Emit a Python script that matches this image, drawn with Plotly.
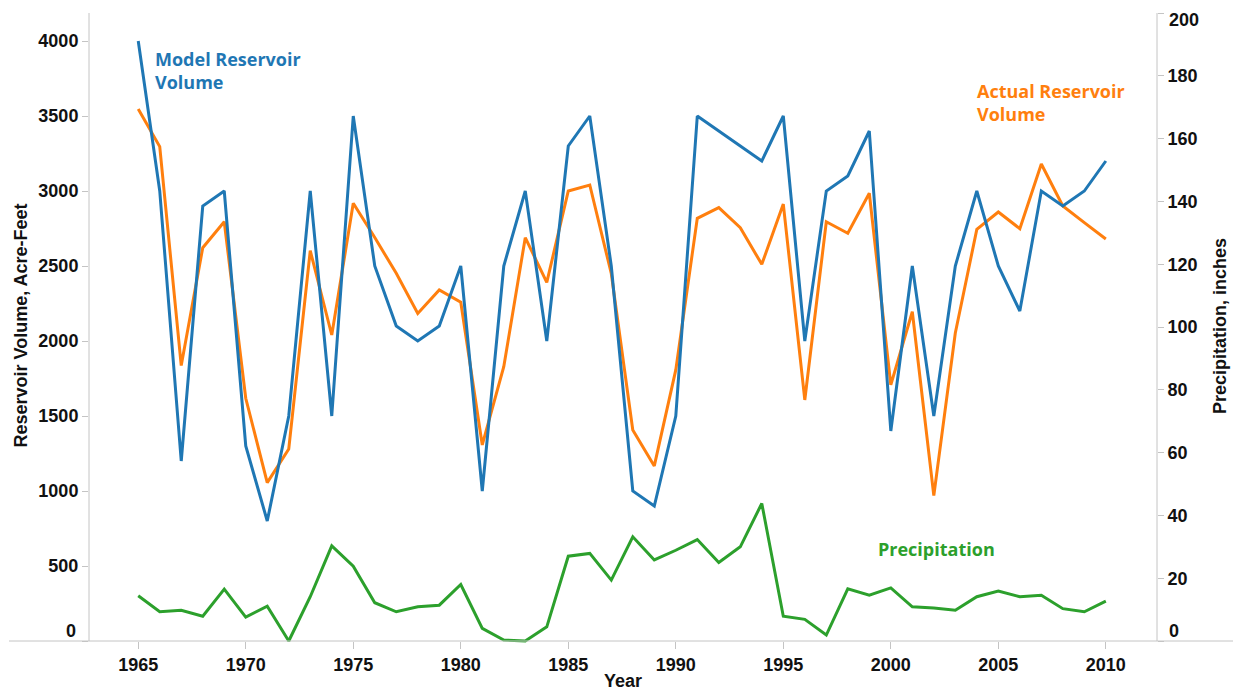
import plotly.graph_objects as go

# ---------------- data ----------------
years = list(range(1965, 2011))
model_volume = [4000, 3000, 1200, 2900, 3000, 1300, 800, 1500, 3000, 1500,
                3500, 2500, 2100, 2000, 2100, 2500, 1000, 2500, 3000, 2000,
                3300, 3500, 2500, 1000, 900, 1500, 3500, 3400, 3300, 3200,
                3500, 2000, 3000, 3100, 3400, 1400, 2500, 1500, 2500, 3000,
                2500, 2200, 3000, 2900, 3000, 3200]
actual_volume = [3547, 3296, 1836, 2622, 2795, 1618, 1056, 1280, 2602, 2040,
                 2918, 2690, 2451, 2184, 2340, 2258, 1307, 1829, 2689, 2391,
                 3000, 3040, 2450, 1407, 1167, 1807, 2818, 2889, 2755, 2511,
                 2913, 1607, 2795, 2718, 2985, 1707, 2195, 969, 2053, 2744,
                 2860, 2749, 3180, 2900, 2789, 2680]
precipitation = [14.4, 9.3, 9.8, 7.9, 16.5, 7.6, 11.1, 0.0, 14.1, 30.3,
                 23.8, 12.2, 9.3, 10.9, 11.4, 18.0, 4.0, 0.3, 0.0, 4.5,
                 27.0, 27.9, 19.4, 33.2, 25.8, 28.9, 32.3, 25.0, 30.0, 43.8,
                 7.9, 6.9, 1.9, 16.6, 14.6, 16.9, 10.9, 10.5, 9.8, 14.1,
                 15.9, 14.1, 14.6, 10.3, 9.3, 12.7]

x_ticks = [1965, 1970, 1975, 1980, 1985, 1990, 1995, 2000, 2005, 2010]
left_ticks = [0, 500, 1000, 1500, 2000, 2500, 3000, 3500, 4000]
right_ticks = [0, 20, 40, 60, 80, 100, 120, 140, 160, 180, 200]

BLUE = "#1f77b4"
ORANGE = "#ff7f0e"
GREEN = "#2ca02c"
AXIS = "#c4c4c4"
TXT = "#111111"

# ---------------- geometry ----------------
W, H = 1233, 690
ML, MR, MT, MB = 89, 76, 13, 47
PW, PH = W - ML - MR, H - MT - MB
zero_px = 2  # zero sits 2px above plot bottom
lp = (PH - zero_px) / 4186.67
left_range = [-zero_px / lp, (PH - zero_px) / lp]
rp = (PH - zero_px) / 200.0
right_range = [-zero_px / rp, 200.0]
y0p = zero_px / PH


def px_x(px):
    return (px - ML) / PW


def px_y(py):
    return (H - MB - py) / PH


fig = go.Figure()
fig.add_trace(go.Scatter(x=years, y=actual_volume, mode="lines", name="Actual Reservoir Volume",
                         line=dict(color=ORANGE, width=3), yaxis="y"))
fig.add_trace(go.Scatter(x=years, y=model_volume, mode="lines", name="Model Reservoir Volume",
                         line=dict(color=BLUE, width=3), yaxis="y"))
fig.add_trace(go.Scatter(x=years, y=precipitation, mode="lines", name="Precipitation",
                         line=dict(color=GREEN, width=3), yaxis="y2"))

FS = 18
tickfont = dict(family="Liberation Sans, Arial, sans-serif", size=FS, color=TXT, weight="bold")

fig.update_layout(
    width=W, height=H,
    margin=dict(l=ML, r=MR, t=MT, b=MB, pad=0),
    paper_bgcolor="white", plot_bgcolor="white",
    showlegend=False,
    xaxis=dict(range=[1962.71, 2012.38], tickvals=x_ticks, ticks="outside", ticklen=7,
               tickcolor=AXIS, tickwidth=1, showgrid=False, zeroline=False, showline=False,
               tickfont=tickfont, anchor="free", position=y0p),
    yaxis=dict(range=left_range, tickvals=left_ticks,
               ticktext=["" if v == 0 else str(v) for v in left_ticks],
               ticks="outside", ticklen=6, tickcolor=AXIS, tickwidth=1,
               showgrid=False, zeroline=False, showline=False, tickfont=tickfont),
    yaxis2=dict(range=right_range, tickvals=right_ticks,
                ticktext=["" if v in (0, 200) else str(v) for v in right_ticks],
                overlaying="y", side="right", ticks="outside", ticklen=6,
                tickcolor=AXIS, tickwidth=1, showgrid=False, zeroline=False,
                showline=False, tickfont=tickfont),
)

# axis lines
fig.add_shape(type="line", xref="paper", yref="paper", x0=px_x(9), x1=px_x(1233),
              y0=y0p, y1=y0p, line=dict(color=AXIS, width=1))
fig.add_shape(type="line", xref="paper", yref="paper", x0=0, x1=0, y0=y0p, y1=1,
              line=dict(color=AXIS, width=1))
fig.add_shape(type="line", xref="paper", yref="paper", x0=1, x1=1, y0=y0p, y1=1,
              line=dict(color=AXIS, width=1))

afont = dict(family="Liberation Sans, Arial, sans-serif", size=FS, color=TXT, weight="bold")
# shifted end labels
fig.add_annotation(text="0", xref="paper", yref="paper", x=px_x(78), y=px_y(631),
                   xanchor="right", yanchor="middle", showarrow=False, font=afont)
fig.add_annotation(text="0", xref="paper", yref="paper", x=px_x(1167), y=px_y(631),
                   xanchor="left", yanchor="middle", showarrow=False, font=afont)
fig.add_annotation(text="200", xref="paper", yref="paper", x=px_x(1167), y=px_y(20.5),
                   xanchor="left", yanchor="middle", showarrow=False, font=afont)

# axis titles
fig.add_annotation(text="Reservoir Volume, Acre-Feet", xref="paper", yref="paper",
                   x=px_x(20.5), y=px_y(326), textangle=-90, showarrow=False,
                   xanchor="center", yanchor="middle", font=afont)
fig.add_annotation(text="Precipitation, inches", xref="paper", yref="paper",
                   x=px_x(1220), y=px_y(326), textangle=-90, showarrow=False,
                   xanchor="center", yanchor="middle", font=afont)
fig.add_annotation(text="Year", xref="paper", yref="paper", x=px_x(623), y=px_y(681),
                   showarrow=False, xanchor="center", yanchor="middle", font=afont)

# series labels
lfont = dict(family="Open Sans, sans-serif", size=18, weight="bold")
fig.add_annotation(text="Model Reservoir<br>Volume", xref="paper", yref="paper",
                   x=px_x(153), y=px_y(70.5), xanchor="left", yanchor="middle", align="left",
                   showarrow=False, font=dict(lfont, color=BLUE))
fig.add_annotation(text="Actual Reservoir<br>Volume", xref="paper", yref="paper",
                   x=px_x(975), y=px_y(102), xanchor="left", yanchor="middle", align="left",
                   showarrow=False, font=dict(lfont, color=ORANGE))
fig.add_annotation(text="Precipitation", xref="paper", yref="paper",
                   x=px_x(876), y=px_y(549), xanchor="left", yanchor="middle", align="left",
                   showarrow=False, font=dict(lfont, color=GREEN))

fig.write_html("out.html", config={"displayModeBar": False},
               post_script="document.body.style.margin='0px';document.body.style.overflow='hidden';")
